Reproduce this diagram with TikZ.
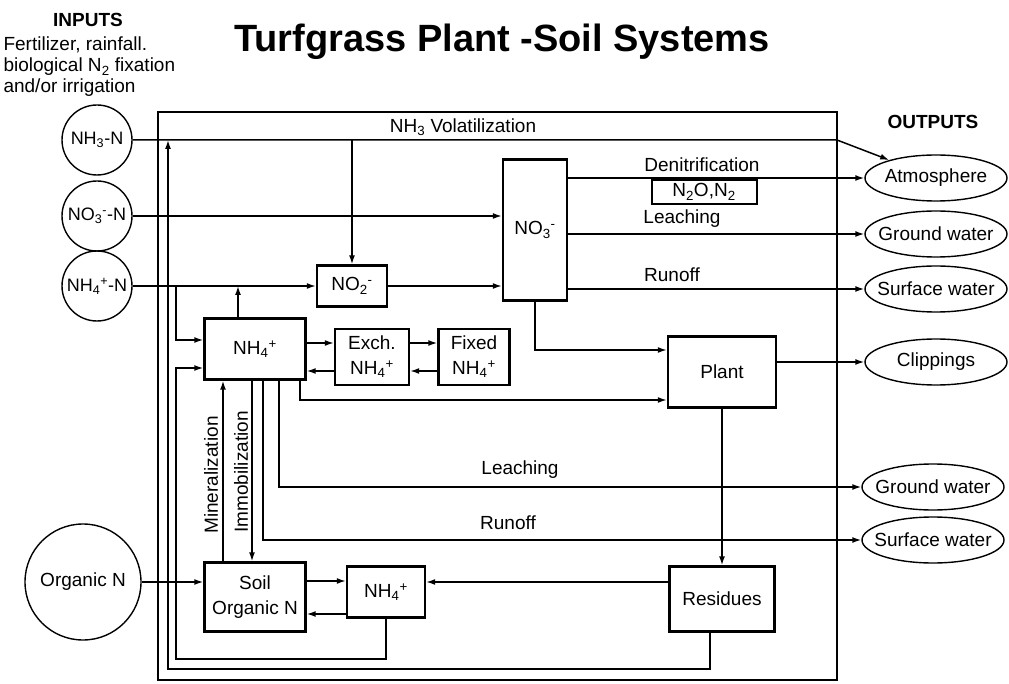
\documentclass[tikz,border=0pt]{standalone}
\usepackage{fontspec}
\setmainfont{Liberation Sans}
\usetikzlibrary{arrows.meta,shapes.geometric}
\newcommand{\ionsub}[2]{\textsubscript{#1}\textsuperscript{#2}}

\begin{document}
\begin{tikzpicture}[x=1pt,y=-1pt,
    every node/.style={font=\fontsize{19}{22}\selectfont},
    flow/.style={line width=1.5pt,-{Latex[length=9pt,width=6pt]}},
    link/.style={line width=1.6pt},
    pool/.style={draw,line width=2.4pt,inner sep=0pt,align=center},
    src/.style={draw,circle,line width=1.4pt,inner sep=0pt,minimum size=70pt,font=\fontsize{18}{21}\selectfont},
    sink/.style={draw,ellipse,line width=1.4pt,inner sep=0pt,minimum width=142pt,minimum height=46pt}]
    \useasboundingbox (0,0) rectangle (1009,684);

    % headings
    \node[font=\fontsize{38}{44}\selectfont\bfseries] (title) at (502,42) {Turfgrass Plant -Soil Systems};
    \node[font=\fontsize{19}{22}\selectfont\bfseries] (inhead) at (88,20) {INPUTS};
    \node[anchor=west,align=left,font=\fontsize{19}{21}\selectfont] (inputs) at (0,67) {Fertilizer, rainfall.\\biological N\textsubscript{2} fixation\\and/or irrigation};
    \node[font=\fontsize{19}{22}\selectfont\bfseries] (outhead) at (933,122) {OUTPUTS};

    % system boundary
    \draw[link] (158,112) rectangle (837,680);

    % inputs
    \node[src] (nhthree) at (97,140) {NH\textsubscript{3}-N};
    \node[src] (nothree) at (97,216) {NO\ionsub{3}{-}-N};
    \node[src] (nhfour) at (97,286) {NH\ionsub{4}{+}-N};
    \node[src,minimum size=116pt,font=\fontsize{19}{22}\selectfont] (orgN) at (83,582) {Organic N};

    % pools
    \node[pool,minimum width=70pt,minimum height=41pt] (noTwo) at (352,286) {NO\ionsub{2}{-}};
    \node[pool,minimum width=64pt,minimum height=141pt] (noThree) at (535,230) {NO\ionsub{3}{-}};
    \node[pool,minimum width=101pt,minimum height=61pt] (nhBox) at (255,349) {NH\ionsub{4}{+}};
    \node[pool,minimum width=74pt,minimum height=56pt,font=\fontsize{19}{25}\selectfont] (exch) at (372,357) {Exch.\\NH\ionsub{4}{+}};
    \node[pool,minimum width=71pt,minimum height=56pt,font=\fontsize{19}{25}\selectfont] (fixed) at (474,357) {Fixed\\NH\ionsub{4}{+}};
    \node[pool,minimum width=108pt,minimum height=71pt] (plant) at (722,372) {Plant};
    \node[pool,minimum width=101pt,minimum height=69pt,font=\fontsize{19}{25}\selectfont] (soil) at (255,597) {Soil\\Organic N};
    \node[pool,minimum width=78pt,minimum height=51pt] (nhLow) at (386,592) {NH\ionsub{4}{+}};
    \node[pool,minimum width=105pt,minimum height=65pt] (resid) at (722,599) {Residues};
    \node[draw,line width=2pt,minimum width=105pt,minimum height=24pt,inner sep=0pt] (gas) at (704,192) {N\textsubscript{2}O,N\textsubscript{2}};

    % outputs
    \node[sink] (atmos) at (936,178) {\makebox[0pt]{Atmosphere}};
    \node[sink] (gwTop) at (936,234) {\makebox[0pt]{Ground water}};
    \node[sink] (swTop) at (936,289) {\makebox[0pt]{Surface water}};
    \node[sink] (clip) at (936,362) {\makebox[0pt]{Clippings}};
    \node[sink] (gwLow) at (933,487) {\makebox[0pt]{Ground water}};
    \node[sink] (swLow) at (933,540) {\makebox[0pt]{Surface water}};

    % process labels
    \node (volat) at (463,127) {NH\textsubscript{3} Volatilization};
    \node (denit) at (702,165) {Denitrification};
    \node (leachTop) at (682,219) {Leaching};
    \node (runTop) at (672,275) {Runoff};
    \node (leachLow) at (520,470) {Leaching};
    \node (runLow) at (508,523) {Runoff};
    \node[rotate=90] (miner) at (211,475) {Mineralization};
    \node[rotate=90] (immob) at (241,472) {Immobilization};

    % junctions
    \coordinate (vcorner) at (837,140);
    \coordinate (upX) at (238,0);
    \coordinate (jIn) at (176,286);
    \coordinate (loopA) at (176,659);
    \coordinate (loopB) at (168,669);
    \coordinate (volJoin) at (168,140);
    \coordinate (minX) at (223,0);
    \coordinate (immX) at (252,0);
    \coordinate (runX) at (263,0);
    \coordinate (leaX) at (279,0);
    \coordinate (plX) at (300,0);
    \coordinate (eTop) at ([yshift=14pt]exch.west);
    \coordinate (eBot) at ([yshift=-14pt]exch.west);
    \coordinate (fTop) at ([yshift=14pt]fixed.west);
    \coordinate (fBot) at ([yshift=-14pt]fixed.west);
    \coordinate (rIn) at ([yshift=10pt]nhLow.east);
    \coordinate (sTop) at ([yshift=16pt]soil.east);
    \coordinate (sBot) at ([yshift=-17pt]soil.east);

    % flows
    \draw[flow] (nhthree) -- (vcorner) -- (atmos);
    \draw[flow] (noTwo.north |- nhthree) -- (noTwo);
    \draw[flow] (nothree) -- (noThree.west |- nothree);
    \draw[flow] (nhfour) -- (noTwo);
    \draw[flow] (noTwo) -- (noThree.west |- noTwo);
    \draw[flow] (nhBox.north -| upX) -- (nhfour -| upX);
    \draw[flow] (jIn) |- ([yshift=9pt]nhBox.west);
    \draw[flow] (nhLow.south) |- (loopA) |- ([yshift=-19pt]nhBox.west);
    \draw[flow] ([xshift=-12pt]resid.south) |- (loopB) -- (volJoin);
    \draw[flow] (nhBox.east |- eTop) -- (eTop);
    \draw[flow] (eBot) -- (nhBox.east |- eBot);
    \draw[flow] (exch.east |- fTop) -- (fTop);
    \draw[flow] (fBot) -- (exch.east |- fBot);
    \draw[flow] (soil.north -| minX) -- (nhBox.south -| minX);
    \draw[flow] (nhBox.south -| immX) -- (soil.north -| immX);
    \draw[flow] (nhBox.south -| runX) |- (swLow);
    \draw[flow] (nhBox.south -| leaX) |- (gwLow);
    \draw[flow] (nhBox.south -| plX) |- ([yshift=-28pt]plant.west);
    \draw[flow] (noThree.south) |- ([yshift=22pt]plant.west);
    \draw[flow] (noThree.east |- atmos) -- (atmos);
    \draw[flow] (noThree.east |- gwTop) -- (gwTop);
    \draw[flow] (noThree.east |- swTop) -- (swTop);
    \draw[flow] (plant.east |- clip) -- (clip);
    \draw[flow] (plant) -- (resid);
    \draw[flow] (resid.west |- rIn) -- (rIn);
    \draw[flow] (orgN) -- (soil.west |- orgN);
    \draw[flow] (sTop) -- (nhLow.west |- sTop);
    \draw[flow] (nhLow.west |- sBot) -- (sBot);
\end{tikzpicture}
\end{document}
